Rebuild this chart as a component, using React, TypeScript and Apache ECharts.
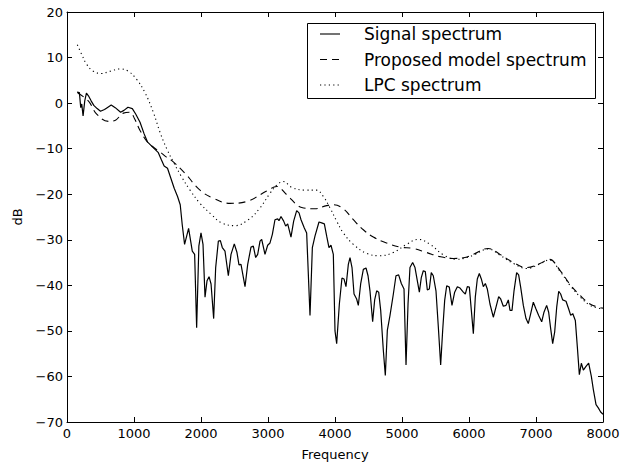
import React, { useEffect, useRef } from "react";
import * as echarts from "echarts";

// Signal spectrum (Hz, dB)
const signalFreq = [150, 185, 205, 220, 240, 265, 290, 320, 360, 400, 450, 500, 560, 600, 660, 720, 800, 850, 910, 975, 1025, 1090, 1150, 1200, 1275, 1360, 1410, 1450, 1500, 1550, 1600, 1650, 1690, 1720, 1755, 1815, 1870, 1905, 1935, 1968, 2000, 2030, 2060, 2090, 2120, 2150, 2189, 2219, 2259, 2289, 2318, 2358, 2408, 2448, 2497, 2537, 2567, 2597, 2657, 2697, 2746, 2781, 2816, 2846, 2881, 2906, 2955, 2995, 3030, 3065, 3104, 3144, 3164, 3194, 3234, 3264, 3294, 3343, 3383, 3428, 3463, 3493, 3542, 3577, 3627, 3662, 3701, 3761, 3801, 3841, 3876, 3910, 3940, 3975, 4000, 4025, 4065, 4104, 4134, 4164, 4199, 4224, 4254, 4284, 4323, 4348, 4383, 4423, 4463, 4493, 4522, 4562, 4592, 4622, 4652, 4682, 4721, 4751, 4781, 4821, 4871, 4910, 4950, 4990, 5030, 5060, 5090, 5119, 5159, 5194, 5229, 5259, 5288, 5318, 5348, 5378, 5408, 5437, 5467, 5507, 5542, 5577, 5607, 5637, 5667, 5706, 5746, 5786, 5826, 5866, 5915, 5945, 5975, 6005, 6035, 6065, 6094, 6124, 6154, 6184, 6214, 6244, 6273, 6313, 6363, 6403, 6443, 6473, 6512, 6552, 6587, 6612, 6642, 6672, 6711, 6741, 6771, 6811, 6851, 6885, 6921, 6960, 7000, 7040, 7085, 7119, 7159, 7189, 7219, 7249, 7279, 7309, 7339, 7368, 7398, 7448, 7488, 7518, 7548, 7587, 7617, 7647, 7677, 7707, 7746, 7786, 7826, 7856, 7896, 7930, 7965, 8000];
const signalDb = [2.4, 2.3, -1.0, -0.2, -2.8, 0.5, 2.2, 1.6, 0.5, -0.5, -1.2, -1.8, -1.4, -1.0, -0.4, -1.0, -2.0, -1.6, -0.9, -1.2, -2.4, -4.2, -6.7, -8.5, -9.6, -10.8, -12.5, -13.8, -14.3, -16.5, -18.7, -20.5, -22.3, -26.7, -31.0, -27.5, -32.5, -33.2, -49.3, -31.4, -28.5, -31.0, -42.6, -39.0, -38.1, -39.7, -47.3, -36.1, -30.3, -30.2, -31.7, -32.5, -37.9, -33.2, -30.9, -32.8, -35.5, -35.4, -40.3, -35.4, -31.6, -31.4, -33.9, -33.2, -30.3, -29.9, -33.2, -31.2, -30.7, -28.8, -25.6, -25.4, -25.8, -24.9, -25.9, -27.0, -26.5, -29.4, -25.9, -23.6, -24.1, -25.6, -27.4, -28.5, -46.6, -31.7, -29.2, -26.1, -26.3, -26.5, -29.2, -31.7, -31.2, -33.2, -50.0, -52.8, -44.1, -38.4, -38.6, -40.3, -35.4, -33.9, -36.1, -41.9, -43.0, -44.4, -39.7, -36.5, -36.2, -37.9, -41.2, -48.0, -43.2, -41.2, -41.5, -45.5, -54.2, -59.8, -49.9, -46.6, -41.9, -37.9, -37.7, -39.6, -40.8, -57.5, -44.1, -36.1, -35.0, -36.1, -39.0, -41.5, -38.3, -36.8, -37.0, -41.0, -40.8, -37.2, -37.9, -41.2, -49.1, -57.5, -49.9, -43.3, -40.1, -40.4, -44.4, -41.5, -40.3, -40.6, -41.5, -41.9, -40.3, -40.4, -45.5, -50.6, -42.6, -38.6, -37.4, -38.6, -40.3, -39.6, -40.8, -44.1, -47.0, -44.8, -42.5, -43.0, -44.6, -44.4, -43.2, -45.5, -45.5, -41.2, -37.2, -37.7, -40.4, -44.4, -47.3, -48.4, -46.2, -43.7, -45.2, -46.6, -48.0, -45.9, -44.4, -45.9, -49.5, -52.8, -50.2, -44.8, -41.3, -41.9, -43.2, -43.5, -45.2, -46.6, -46.2, -47.7, -53.5, -59.6, -57.1, -58.6, -57.8, -57.1, -60.0, -62.9, -66.2, -66.9, -67.8, -68.3];

// Proposed model spectrum
const modelFreq = [160, 318, 443, 617, 716, 841, 940, 1010, 1090, 1199, 1300, 1388, 1480, 1587, 1761, 1985, 2184, 2433, 2682, 2980, 3130, 3279, 3503, 3701, 3876, 3975, 4124, 4274, 4423, 4572, 4771, 4970, 5169, 5368, 5567, 5766, 5940, 6065, 6288, 6463, 6662, 6861, 7060, 7199, 7358, 7507, 7657, 7806, 7930, 8000];
const modelDb = [2.2, 0.5, -2.4, -4.0, -3.8, -2.2, -2.0, -3.5, -6.0, -8.5, -9.8, -10.7, -11.8, -12.9, -15.4, -19.1, -20.9, -22.0, -21.6, -19.3, -18.3, -20.1, -22.9, -23.2, -22.5, -22.3, -23.2, -25.6, -27.8, -29.4, -30.7, -31.6, -31.9, -32.8, -33.7, -34.1, -33.9, -33.2, -31.9, -33.2, -35.0, -36.1, -35.2, -34.3, -36.7, -39.8, -42.2, -44.1, -44.8, -45.0];

// LPC spectrum
const lpcFreq = [154, 219, 294, 393, 517, 642, 791, 915, 1040, 1164, 1288, 1388, 1488, 1587, 1711, 1836, 1985, 2159, 2308, 2507, 2706, 2881, 3030, 3130, 3229, 3353, 3552, 3726, 3826, 3925, 4025, 4124, 4274, 4473, 4672, 4871, 5070, 5244, 5418, 5617, 5816, 5990, 6065, 6288, 6463, 6662, 6861, 7060, 7199, 7358, 7507, 7657, 7806, 7930, 8000];
const lpcDb = [12.8, 10.7, 8.5, 7.0, 6.5, 7.0, 7.5, 7.0, 5.2, 2.3, -2.0, -6.4, -10.0, -12.9, -16.2, -19.1, -22.0, -24.5, -26.3, -26.9, -25.6, -23.0, -19.8, -18.0, -17.2, -18.5, -19.1, -19.1, -20.5, -23.0, -25.9, -28.5, -31.0, -33.0, -33.5, -32.8, -31.0, -29.9, -31.0, -33.3, -34.3, -33.8, -33.4, -32.0, -33.4, -35.2, -36.3, -35.3, -34.4, -36.9, -40.0, -42.5, -44.4, -45.0, -45.2];

const legendLabels = ["Signal spectrum", "Proposed model spectrum", "LPC spectrum"];

const FONT = "DejaVu Sans";

function pairs(xs: number[], ys: number[]) {
  return xs.map((x, i) => [x, ys[i]]);
}

export default function App() {
  const ref = useRef<HTMLDivElement>(null);
  useEffect(() => {
    if (!ref.current) return;
    const chart = echarts.init(ref.current, null, { renderer: "svg" });
    const axisCommon = {
      axisLine: { show: true, onZero: false, lineStyle: { color: "#000", width: 1 } },
      axisTick: { show: true, inside: true, length: 5, lineStyle: { color: "#000", width: 1 } },
      splitLine: { show: false },
    };
    const plain = (v: number) => String(v).replace("-", "\u2212");
    const legendTop = 23;
    const rowY = [34, 59.5, 85];
    const lx1 = 320, lx2 = 340;
    chart.setOption({
      animation: false,
      backgroundColor: "#fff",
      grid: { left: 67, right: 35, top: 12, bottom: 40, containLabel: false },
      xAxis: [
        {
          type: "value", min: 0, max: 8000, interval: 1000, position: "bottom",
          name: "Frequency", nameLocation: "middle", nameGap: 26,
          nameTextStyle: { fontFamily: FONT, fontSize: 13, color: "#000" },
          axisLabel: { fontFamily: FONT, fontSize: 13, color: "#000", margin: 5, formatter: plain },
          ...axisCommon,
        },
        {
          type: "value", min: 0, max: 8000, interval: 1000, position: "top",
          axisLabel: { show: false },
          ...axisCommon,
        },
      ],
      yAxis: [
        {
          type: "value", min: -70, max: 20, interval: 10, position: "left",
          name: "dB", nameLocation: "middle", nameGap: 43, nameRotate: 90,
          nameTextStyle: { fontFamily: FONT, fontSize: 13, color: "#000" },
          axisLabel: { fontFamily: FONT, fontSize: 13, color: "#000", margin: 4, formatter: plain },
          ...axisCommon,
        },
        {
          type: "value", min: -70, max: 20, interval: 10, position: "right",
          axisLabel: { show: false },
          ...axisCommon,
        },
      ],
      series: [
        {
          name: legendLabels[0], type: "line", showSymbol: false, symbol: "none",
          data: pairs(signalFreq, signalDb),
          lineStyle: { color: "#000", width: 1.2 },
          z: 3,
        },
        {
          name: legendLabels[1], type: "line", showSymbol: false, symbol: "none", smooth: 0.4,
          data: pairs(modelFreq, modelDb),
          lineStyle: { color: "#000", width: 1.1, type: [7, 5] },
          z: 2,
        },
        {
          name: legendLabels[2], type: "line", showSymbol: false, symbol: "none", smooth: 0.4,
          data: pairs(lpcFreq, lpcDb),
          lineStyle: { color: "#000", width: 1.1, type: [1.2, 3.2] },
          z: 2,
        },
      ],
      graphic: [
        {
          type: "rect", left: 307, top: legendTop, z: 10,
          shape: { width: 288, height: 75 },
          style: { fill: "#fff", stroke: "#000", lineWidth: 1 },
        },
        { type: "line", z: 11, shape: { x1: lx1, y1: rowY[0], x2: lx2, y2: rowY[0] }, style: { stroke: "#000", lineWidth: 1.1 } },
        { type: "line", z: 11, shape: { x1: lx1, y1: rowY[1], x2: lx2, y2: rowY[1] }, style: { stroke: "#000", lineWidth: 1.1, lineDash: [7, 5] } },
        { type: "line", z: 11, shape: { x1: lx1, y1: rowY[2], x2: lx2, y2: rowY[2] }, style: { stroke: "#000", lineWidth: 1.1, lineDash: [1.2, 3.2] } },
        ...legendLabels.map((t, i) => ({
          type: "text", z: 11, x: 364, y: rowY[i],
          style: { text: t, fontFamily: FONT, fontSize: 17, fill: "#000", textVerticalAlign: "middle", verticalAlign: "middle", textAlign: "left" },
        })),
      ],
    });
    return () => chart.dispose();
  }, []);
  return <div ref={ref} style={{ position: "fixed", left: 0, top: 0, width: 638, height: 466, background: "#fff" }} />;
}
